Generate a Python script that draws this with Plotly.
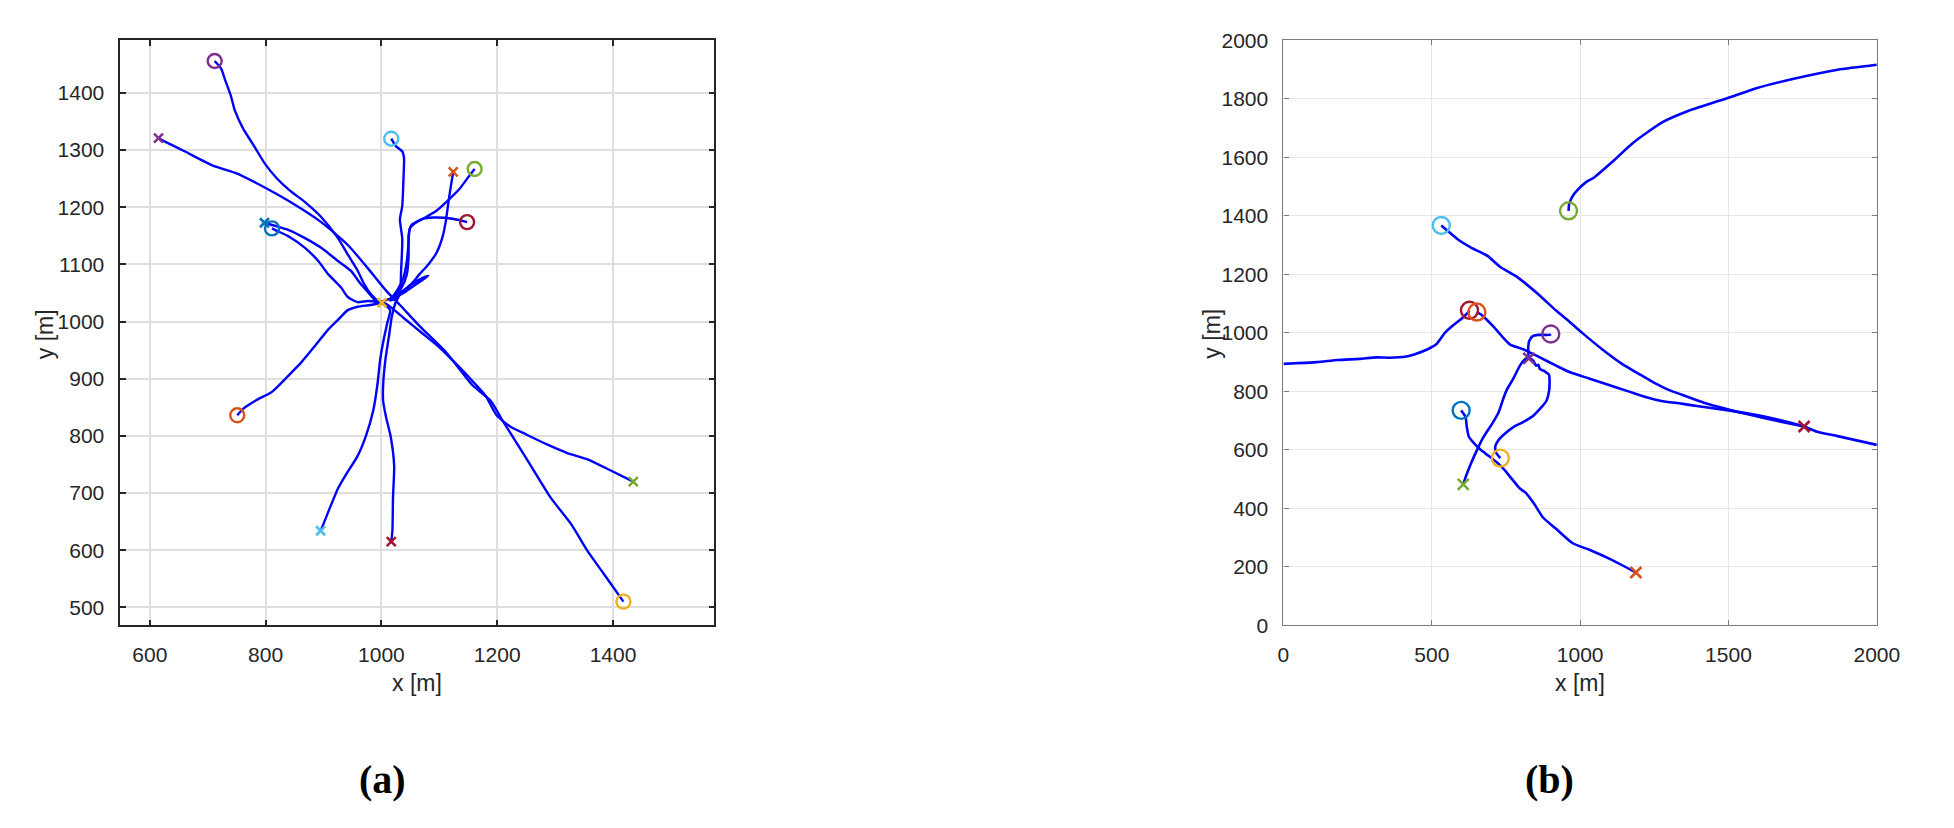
import plotly.graph_objects as go

# ---------------- Panel (a) data: trajectories [m] ----------------
a_traj1_x = [712, 723, 730, 740, 747, 761, 782, 799, 820, 841, 868, 896, 925, 942, 959, 970, 981, 993, 1010, 1040, 1070, 1100, 1130, 1160, 1180, 1199, 1223, 1251, 1286, 1321, 1356, 1397, 1435]
a_traj1_y = [1456, 1443, 1423, 1395, 1369, 1338, 1304, 1276, 1250, 1230, 1209, 1183, 1146, 1117, 1089, 1066, 1049, 1037, 1030, 1005, 980, 955, 925, 893, 870, 836, 816, 802, 785, 770, 759, 739, 720]

a_traj2_x = [1418, 1411, 1383, 1355, 1328, 1293, 1258, 1234, 1209, 1189, 1157, 1112, 1066, 1032, 1010, 976, 942, 896, 840, 783, 751, 709, 660, 626, 615]
a_traj2_y = [510, 520, 560, 600, 645, 691, 748, 787, 827, 861, 889, 946, 992, 1029, 1052, 1094, 1134, 1174, 1211, 1243, 1259, 1273, 1298, 1315, 1321]

a_traj3_x = [811, 817, 840, 868, 891, 908, 930, 942, 959, 976, 993, 1004, 1015, 1010, 1004, 998, 993, 986, 973, 959, 938, 925, 911, 900, 895]
a_traj3_y = [1163, 1160, 1149, 1129, 1106, 1083, 1060, 1043, 1034, 1036, 1034, 1030, 1020, 997, 969, 934, 889, 845, 799, 765, 731, 708, 674, 646, 634]

a_traj4_x = [1017, 1025, 1036, 1039, 1038, 1036, 1032, 1036, 1034, 1032, 1024, 1018, 1013, 1007, 1003, 1003, 1008, 1016, 1022, 1020, 1019, 1017]
a_traj4_y = [1320, 1307, 1298, 1287, 1247, 1202, 1179, 1145, 1088, 1049, 1032, 1009, 974, 934, 889, 861, 833, 799, 748, 691, 634, 615]

a_traj5_x = [1161, 1151, 1134, 1117, 1095, 1072, 1052, 1047, 1047, 1044, 1035, 1021, 1038, 1055, 1081, 1072, 1050, 1030, 1015, 993, 979, 964, 947, 925, 896, 868, 840, 811, 798]
a_traj5_y = [1267, 1254, 1231, 1214, 1194, 1180, 1169, 1151, 1117, 1083, 1060, 1043, 1050, 1062, 1080, 1077, 1064, 1048, 1040, 1034, 1049, 1066, 1089, 1106, 1129, 1146, 1160, 1169, 1173]

a_traj6_x = [1148, 1123, 1089, 1072, 1061, 1049, 1047, 1044, 1038, 1027, 1015, 1024, 1037, 1052, 1066, 1081, 1095, 1105, 1111, 1115, 1119, 1124]
a_traj6_y = [1174, 1180, 1182, 1180, 1174, 1163, 1140, 1106, 1077, 1054, 1037, 1040, 1051, 1066, 1083, 1100, 1120, 1146, 1174, 1203, 1231, 1262]

a_traj7_x = [751, 762, 783, 811, 840, 862, 885, 908, 925, 942, 959, 981, 1001]
a_traj7_y = [836, 848, 862, 877, 906, 929, 957, 986, 1003, 1020, 1026, 1029, 1033]

# start (circle) and end (x) markers, panel (a)
a_start_x = [712, 1017, 1161, 1148, 811, 751, 1418]
a_start_y = [1456, 1320, 1267, 1174, 1163, 836, 510]
a_start_colors = ["#7E2F8E", "#4DBEEE", "#77AC30", "#A2142F", "#0072BD", "#D95319", "#EDB120"]
a_end_x = [615, 1124, 798, 1001, 895, 1017, 1435]
a_end_y = [1321, 1262, 1173, 1033, 634, 615, 720]
a_end_colors = ["#7E2F8E", "#D95319", "#0072BD", "#EDB120", "#4DBEEE", "#A2142F", "#77AC30"]

# ---------------- Panel (b) data: trajectories [m] ----------------
b_traj1_x = [961, 963, 968, 980, 990, 1019, 1047, 1105, 1177, 1278, 1364, 1508, 1594, 1724, 1868, 2000]
b_traj1_y = [1417, 1440, 1454, 1475, 1487, 1514, 1531, 1581, 1648, 1720, 1758, 1806, 1836, 1869, 1899, 1916]

b_traj2_x = [532, 575, 587, 631, 675, 688, 731, 786, 853, 919, 964, 1008, 1074, 1141, 1196, 1252, 1296, 1341, 1420, 1500, 1580, 1650, 1755]
b_traj2_y = [1367, 1330, 1320, 1292, 1270, 1263, 1225, 1192, 1137, 1076, 1038, 999, 944, 894, 861, 828, 806, 789, 760, 738, 718, 702, 680]

b_traj3_x = [652, 667, 681, 708, 742, 764, 808, 864, 919, 964, 1030, 1097, 1163, 1230, 1274, 1341, 1393, 1500, 1600, 1700, 1755, 1796, 1868, 2000]
b_traj3_y = [1071, 1062, 1049, 1021, 982, 960, 944, 916, 888, 866, 844, 822, 800, 778, 767, 758, 750, 735, 718, 695, 680, 663, 647, 617]

b_traj4_x = [627, 623, 601, 573, 544, 515, 486, 443, 414, 357, 314, 256, 184, 112, 40, 0]
b_traj4_y = [1077, 1071, 1049, 1027, 1000, 961, 944, 927, 919, 915, 916, 911, 907, 900, 896, 894]

b_traj5_x = [901, 897, 858, 839, 828, 825, 825, 814, 797, 775, 753, 742, 725, 703, 675, 653, 631, 614, 606]
b_traj5_y = [996, 993, 993, 988, 971, 949, 916, 910, 888, 844, 806, 778, 728, 689, 645, 601, 551, 507, 482]

b_traj6_x = [731, 717, 714, 725, 747, 775, 808, 842, 869, 886, 895, 897, 895, 881, 864, 859, 851, 842, 827]
b_traj6_y = [572, 590, 612, 634, 656, 678, 695, 717, 745, 767, 800, 833, 857, 868, 877, 891, 888, 905, 913]

b_traj7_x = [599, 606, 614, 618, 625, 642, 664, 692, 720, 742, 769, 797, 817, 846, 875, 918, 975, 1033, 1105, 1188]
b_traj7_y = [735, 725, 712, 678, 645, 623, 601, 579, 557, 535, 502, 468, 453, 414, 369, 331, 281, 258, 225, 181]

b_start_x = [961, 532, 627, 652, 901, 599, 731]
b_start_y = [1417, 1367, 1077, 1071, 996, 735, 572]
b_start_colors = ["#77AC30", "#4DBEEE", "#A2142F", "#D95319", "#7E2F8E", "#0072BD", "#EDB120"]
b_end_x = [827, 606, 1188, 1755]
b_end_y = [913, 482, 181, 680]
b_end_colors = ["#7E2F8E", "#77AC30", "#D95319", "#A2142F"]

# ---------------- Build figure ----------------
W, H = 1954, 828
LINE_BLUE = "#0000FF"
fig = go.Figure()

a_trajs = [(a_traj1_x, a_traj1_y), (a_traj2_x, a_traj2_y), (a_traj3_x, a_traj3_y),
           (a_traj4_x, a_traj4_y), (a_traj5_x, a_traj5_y), (a_traj6_x, a_traj6_y),
           (a_traj7_x, a_traj7_y)]
b_trajs = [(b_traj1_x, b_traj1_y), (b_traj2_x, b_traj2_y), (b_traj3_x, b_traj3_y),
           (b_traj4_x, b_traj4_y), (b_traj5_x, b_traj5_y), (b_traj6_x, b_traj6_y),
           (b_traj7_x, b_traj7_y)]

for tx, ty in a_trajs:
    fig.add_trace(go.Scatter(x=tx, y=ty, mode="lines", xaxis="x", yaxis="y",
                             line=dict(color=LINE_BLUE, width=2.4, shape="spline", smoothing=0.6),
                             hoverinfo="skip"))
for tx, ty in b_trajs:
    fig.add_trace(go.Scatter(x=tx, y=ty, mode="lines", xaxis="x2", yaxis="y2",
                             line=dict(color=LINE_BLUE, width=2.6, shape="spline", smoothing=0.6),
                             hoverinfo="skip"))

def add_markers(xs, ys, cols, sym, size, lw, xa, ya):
    for x, y, c in zip(xs, ys, cols):
        fig.add_trace(go.Scatter(x=[x], y=[y], mode="markers", xaxis=xa, yaxis=ya,
                                 marker=dict(symbol=sym, size=size, color=c,
                                             line=dict(color=c, width=lw)),
                                 cliponaxis=False, hoverinfo="skip"))

add_markers(a_start_x, a_start_y, a_start_colors, "circle-open", 14, 2.4, "x", "y")
add_markers(a_end_x, a_end_y, a_end_colors, "x-thin-open", 9, 2.6, "x", "y")
add_markers(b_start_x, b_start_y, b_start_colors, "circle-open", 17, 2.4, "x2", "y2")
add_markers(b_end_x, b_end_y, b_end_colors, "x-thin-open", 11, 2.6, "x2", "y2")

TICKFONT = dict(family="Liberation Sans, Arial, sans-serif", size=21, color="#262626")

def ax(domain, rng, dtick, tick0, anchor, linecolor, lw, gridc, gw, tlen, standoff):
    return dict(domain=domain, range=rng, dtick=dtick, tick0=tick0, anchor=anchor,
                showline=True, mirror="ticks", linecolor=linecolor, linewidth=lw,
                ticks="inside", ticklen=tlen, tickwidth=lw, tickcolor=linecolor,
                showgrid=True, gridcolor=gridc, gridwidth=gw, zeroline=False,
                tickfont=TICKFONT, ticklabelstandoff=standoff, fixedrange=True)

ya_dom = [1 - 631 / H, 1 - 28.7 / H]
fig.update_layout(
    width=W, height=H, margin=dict(l=0, r=0, t=0, b=0),
    paper_bgcolor="white", plot_bgcolor="white", showlegend=False,
    xaxis=ax([116 / W, 719 / W], [549, 1575], 200, 600, "y", "#262626", 1.6, "#DEDEDE", 1.6, 6, 10),
    yaxis=ax(ya_dom, [468.2, 1492.9], 100, 500, "x", "#262626", 1.6, "#DEDEDE", 1.6, 6, 10),
    xaxis2=ax([1296.7 / W, 1899 / W], [0, 2000], 500, 0, "y2", "#7A7A7A", 1.1, "#E6E6E6", 1.2, 5, 10),
    yaxis2=ax([1 - 631 / H, 1 - 29 / H], [0, 2000], 200, 0, "x2", "#7A7A7A", 1.1, "#E6E6E6", 1.2, 5, 10),
)

LABELFONT = dict(family="Liberation Sans, Arial, sans-serif", size=23, color="#262626")
CAPFONT = dict(family="Liberation Serif, Times New Roman, serif", size=40, color="#000000")
annots = [
    dict(text="x [m]", x=416.7 / W, y=1 - 690 / H, font=LABELFONT, textangle=0),
    dict(text="y [m]", x=39 / W, y=1 - 331 / H, font=LABELFONT, textangle=-90),
    dict(text="x [m]", x=1598 / W, y=1 - 690 / H, font=LABELFONT, textangle=0),
    dict(text="y [m]", x=1224 / W, y=1 - 331 / H, font=LABELFONT, textangle=-90),
    dict(text="<b>(a)</b>", x=382 / W, y=1 - 789 / H, font=CAPFONT, textangle=0),
    dict(text="<b>(b)</b>", x=1567 / W, y=1 - 789 / H, font=CAPFONT, textangle=0),
]
for a in annots:
    fig.add_annotation(xref="paper", yref="paper", showarrow=False,
                       xanchor="center", yanchor="middle", **a)

PIN_JS = (
    "var de=document.documentElement, b=document.body;"
    "de.style.margin='0';de.style.padding='0';de.style.overflow='hidden';"
    "b.style.margin='0';b.style.padding='0';b.style.overflow='hidden';"
    "var d=document.getElementById('{plot_id}');"
    "d.style.position='fixed';d.style.left='0px';d.style.top='0px';"
)
fig.write_html("out.html", config={"displayModeBar": False}, post_script=PIN_JS)
